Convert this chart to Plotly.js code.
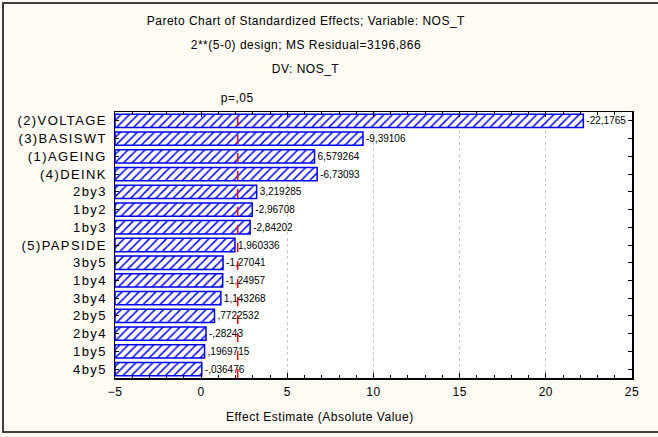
<!DOCTYPE html>
<html><head><meta charset="utf-8">
<script src="https://cdn.plot.ly/plotly-3.0.1.min.js"></script>
<style>
html,body{margin:0;padding:0;background:#FEFAF4;}
#wrap{position:relative;width:658px;height:437px;overflow:hidden;}
#chart{width:658px;height:437px;}
#frame{position:absolute;left:2px;top:2px;width:660px;height:431px;border:2px solid #404040;pointer-events:none;box-sizing:border-box;}
#chart .annotation text{letter-spacing:0.5px;}
#chart .ytick text{letter-spacing:1.4px;}
#chart .xtick text{letter-spacing:0.5px;}
#chart .textpoint text{letter-spacing:-0.4px;}
</style></head>
<body><div id="wrap"><div id="chart"></div><div id="frame"></div></div>
<script>
const factors = ["(2)VOLTAGE","(3)BASISWT","(1)AGEING","(4)DEINK","2by3","1by2","1by3","(5)PAPSIDE","3by5","1by4","3by4","2by5","2by4","1by5","4by5"];
const effects = [-22.1765,-9.39106,6.579264,-6.73093,3.219285,-2.96708,-2.84202,1.960336,-1.27041,-1.24957,1.143268,0.7722532,-0.28243,0.1969715,-0.036476];
const critical = 2.12;
const xMin = -5, xMax = 25;
const xTicks = [-5,0,5,10,15,20,25];

const fmt = v => String(v).replace('.', ',').replace(/^(-?)0,/, '$1,');
const absE = effects.map(Math.abs);

const trace = {
  type:'bar', orientation:'h',
  y: factors,
  x: absE.map(v => v - xMin),
  base: xMin,
  text: effects.map(fmt),
  textposition:'outside',
  cliponaxis:false,
  textfont:{family:'Liberation Sans Narrow, Arial Narrow, Arial', size:10, color:'#000'},
  marker:{color:'white', line:{color:'#0000FF', width:1.5},
    pattern:{shape:'/', fgcolor:'#0000FF', bgcolor:'white', size:6, solidity:0.25}},
  hoverinfo:'none'
};

const layout = {
  width:658, height:437,
  margin:{l:115, r:26, t:112, b:59},
  paper_bgcolor:'#FEFAF4', plot_bgcolor:'white',
  showlegend:false,
  bargap:0.25,
  font:{family:'Liberation Sans, Arial', size:12, color:'#000'},
  xaxis:{range:[xMin,xMax], tickvals:xTicks, ticks:'inside', ticklen:5, tickcolor:'#000',
    mirror:'allticks', showline:true, linecolor:'#000', linewidth:1.5,
    showgrid:true, gridcolor:'#C8C8C8', griddash:'dot', gridwidth:1, zeroline:false,
    minor:{dtick:1, ticks:'inside', ticklen:3, tickcolor:'#000', showgrid:false},
    tickfont:{size:12}, ticklabelstandoff:2},
  yaxis:{autorange:'reversed', ticks:'inside', ticklen:4, tickcolor:'#000', mirror:'allticks',
    showline:true, linecolor:'#000', linewidth:1.5, showgrid:false,
    tickfont:{size:13}, ticklabelstandoff:4},
  shapes:[{type:'line', xref:'x', yref:'paper', x0:critical, x1:critical, y0:0, y1:1,
    line:{color:'#FF0000', width:1.5, dash:'dash'}}],
  annotations:[
    {text:'Pareto Chart of Standardized Effects; Variable: NOS_T', xref:'paper', yref:'paper', x:0.37, y:1, yshift:100, showarrow:false, font:{size:12}},
    {text:'2**(5-0) design; MS Residual=3196,866', xref:'paper', yref:'paper', x:0.37, y:1, yshift:76, showarrow:false, font:{size:12}},
    {text:'DV: NOS_T', xref:'paper', yref:'paper', x:0.37, y:1, yshift:52, showarrow:false, font:{size:12}},
    {text:'p=,05', xref:'x', yref:'paper', x:critical, y:1, xshift:0, yshift:23, showarrow:false, font:{size:12}},
    {text:'Effect Estimate (Absolute Value)', xref:'paper', yref:'paper', x:0.397, y:0, yanchor:'middle', yshift:-39, showarrow:false, font:{size:12}}
  ]
};
Plotly.newPlot('chart',[trace],layout,{staticPlot:true});
</script></body></html>
